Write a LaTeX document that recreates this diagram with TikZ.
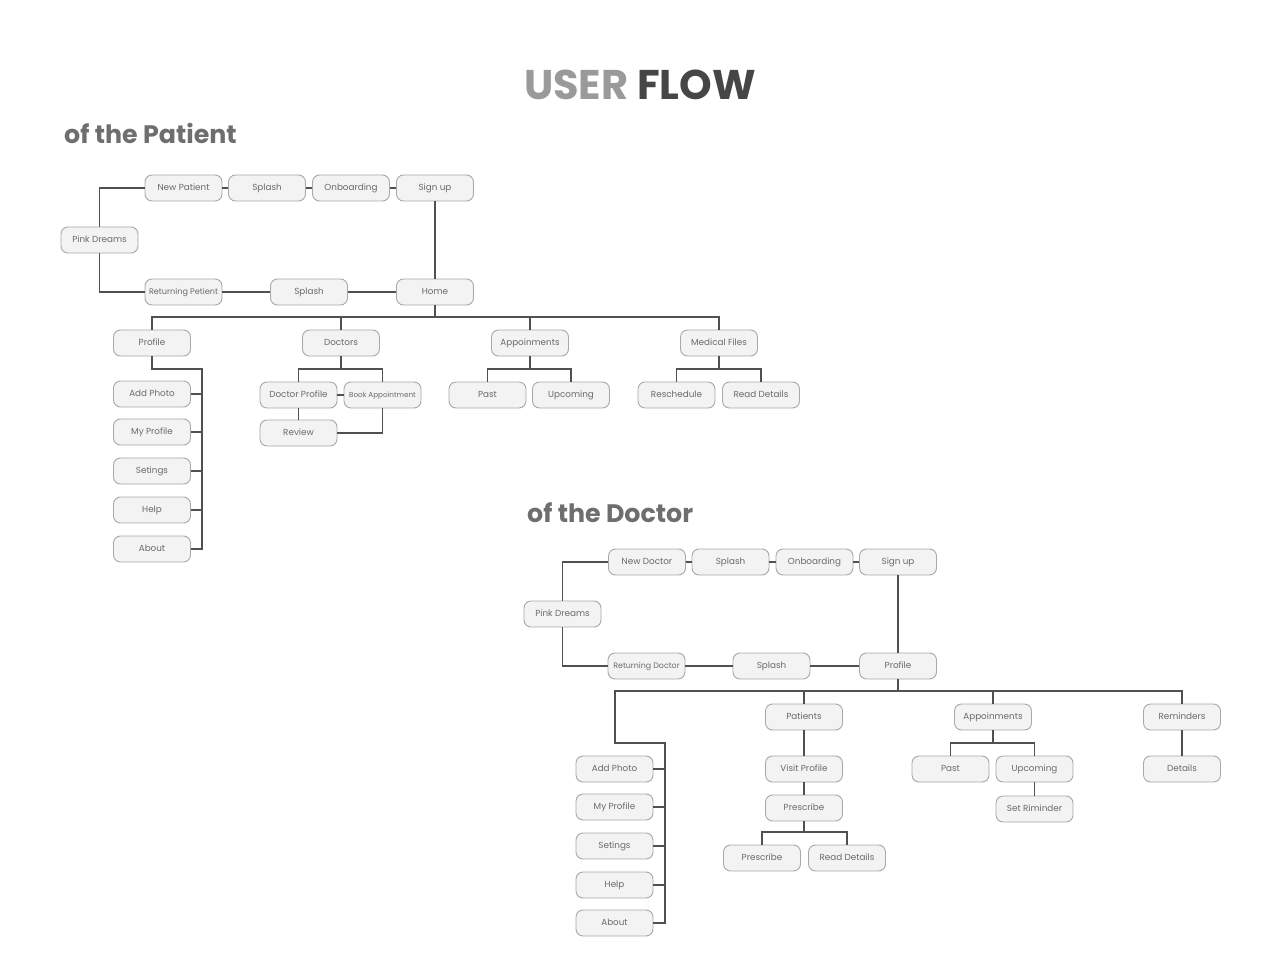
\documentclass[tikz,border=0pt]{standalone}
\usepackage{fontspec}
\setmainfont{Poppins}
\begin{document}
\begin{tikzpicture}[x=1pt,y=-1pt,
  box/.style={draw=boxline,fill=boxfill,rounded corners=7pt,line width=0.9pt,minimum width=77pt,minimum height=26pt,inner sep=0pt,text height=6.3pt,text depth=1.7pt,font=\fontsize{8.8}{10}\selectfont,text=boxtext},
  wire/.style={draw=wirec,line width=1.2pt}]
\definecolor{boxline}{HTML}{A8A8A8}
\definecolor{boxfill}{HTML}{F3F3F3}
\definecolor{boxtext}{HTML}{6A6A6A}
\definecolor{wirec}{HTML}{505050}
\definecolor{ttlA}{HTML}{9A9A9A}
\definecolor{ttlB}{HTML}{464646}
\definecolor{subc}{HTML}{6E6E6E}
\useasboundingbox (0,0) rectangle (1280,960);
\fill[white] (0,0) rectangle (1280,960);
% titles
\node[font=\fontsize{41.5}{46}\selectfont\bfseries,anchor=center] (title) at (640,85) {\textcolor{ttlA}{USER} \textcolor{ttlB}{FLOW}};
\node[font=\fontsize{25.3}{29}\selectfont\bfseries,text=subc,anchor=west,inner sep=0pt] (subP) at (64,133) {of the Patient};
\node[font=\fontsize{25.3}{29}\selectfont\bfseries,text=subc,anchor=west,inner sep=0pt] (subD) at (527,513) {of the Doctor};
% ===== patient =====
\node[box] (pnp) at (183.5,188) {New Patient};
\node[box] (psp) at (267,188) {Splash};
\node[box] (pon) at (351,188) {Onboarding};
\node[box] (psu) at (435,188) {Sign up};
\node[box] (ppd) at (99.5,240) {Pink Dreams};
\node[box,font=\fontsize{8.1}{9}\selectfont] (prp) at (183.5,292) {Returning Petient};
\node[box] (psp2) at (309,292) {Splash};
\node[box] (phome) at (435,292) {Home};
\node[box] (pprof) at (152,343) {Profile};
\node[box] (pdoc) at (341,343) {Doctors};
\node[box] (papp) at (530,343) {Appoinments};
\node[box] (pmed) at (719,343) {Medical Files};
\node[box] (pap) at (152,394) {Add Photo};
\node[box] (pmp) at (152,432) {My Profile};
\node[box] (pset) at (152,471) {Setings};
\node[box] (phelp) at (152,510) {Help};
\node[box] (pabout) at (152,549) {About};
\node[box] (pdp) at (298.5,395) {Doctor Profile};
\node[box,font=\fontsize{7.2}{8}\selectfont] (pba) at (382.5,395) {Book Appointment};
\node[box] (prev) at (298.5,433) {Review};
\node[box] (ppast) at (487.5,395) {Past};
\node[box] (pup) at (571,395) {Upcoming};
\node[box] (presch) at (676.5,395) {Reschedule};
\node[box] (prd) at (761,395) {Read Details};
\coordinate (pbus) at (435,317);
\coordinate (pvr) at (202,369);
\coordinate (pdocbus) at (341,369);
\coordinate (pappbus) at (530,369);
\coordinate (pmedbus) at (719,369);
\draw[wire] (ppd.north) |- (pnp.west);
\draw[wire] (ppd.south) |- (prp.west);
\draw[wire] (pnp) -- (psp);
\draw[wire] (psp) -- (pon);
\draw[wire] (pon) -- (psu);
\draw[wire] (psu) -- (phome);
\draw[wire] (prp) -- (psp2);
\draw[wire] (psp2) -- (phome);
\draw[wire] (phome.south) -- (pbus);
\draw[wire] (pprof.north) -- (pprof.north |- pbus) -| (pmed.north);
\draw[wire] (pdoc.north) -- (pdoc.north |- pbus);
\draw[wire] (papp.north) -- (papp.north |- pbus);
\draw[wire] (pprof.south) |- (pvr) -- (pvr |- pabout.east) -- (pabout.east);
\foreach \n in {pap,pmp,pset,phelp} \draw[wire] (\n.east) -- (\n.east -| pvr);
\draw[wire] (pdoc.south) -- (pdocbus);
\draw[wire] (pdp.north) |- (pdocbus) -| (pba.north);
\draw[wire] (pdp) -- (pba);
\draw[wire] (pdp) -- (prev);
\draw[wire] (pba.south) |- (prev.east);
\draw[wire] (papp.south) -- (pappbus);
\draw[wire] (ppast.north) |- (pappbus) -| (pup.north);
\draw[wire] (pmed.south) -- (pmedbus);
\draw[wire] (presch.north) |- (pmedbus) -| (prd.north);
% ===== doctor =====
\node[box] (dnd) at (647,562) {New Doctor};
\node[box] (dsp) at (730.5,562) {Splash};
\node[box] (don) at (814.5,562) {Onboarding};
\node[box] (dsu) at (898,562) {Sign up};
\node[box] (dpd) at (562.5,614) {Pink Dreams};
\node[box,font=\fontsize{7.9}{9}\selectfont] (drd) at (646.5,666) {Returning Doctor};
\node[box] (dsp2) at (771.5,666) {Splash};
\node[box] (dprof) at (898,666) {Profile};
\node[box] (dpat) at (804,717) {Patients};
\node[box] (dapp) at (993,717) {Appoinments};
\node[box] (drem) at (1182,717) {Reminders};
\node[box] (dap) at (614.5,769) {Add Photo};
\node[box] (dmp) at (614.5,807) {My Profile};
\node[box] (dset) at (614.5,846) {Setings};
\node[box] (dhelp) at (614.5,885) {Help};
\node[box] (dabout) at (614.5,923) {About};
\node[box] (dvp) at (804,769) {Visit Profile};
\node[box] (dpr) at (804,808) {Prescribe};
\node[box] (dpr2) at (762,858) {Prescribe};
\node[box] (drd2) at (847,858) {Read Details};
\node[box] (dpast) at (950.5,769) {Past};
\node[box] (dup) at (1034.5,769) {Upcoming};
\node[box] (dsr) at (1034.5,809) {Set Riminder};
\node[box] (ddet) at (1182,769) {Details};
\coordinate (dbus) at (898,691);
\coordinate (dleft) at (615,691);
\coordinate (dvr) at (665,743);
\coordinate (dprbus) at (804,832);
\coordinate (dappbus) at (993,743);
\draw[wire] (dpd.north) |- (dnd.west);
\draw[wire] (dpd.south) |- (drd.west);
\draw[wire] (dnd) -- (dsp);
\draw[wire] (dsp) -- (don);
\draw[wire] (don) -- (dsu);
\draw[wire] (dsu) -- (dprof);
\draw[wire] (drd) -- (dsp2);
\draw[wire] (dsp2) -- (dprof);
\draw[wire] (dprof.south) -- (dbus);
\draw[wire] (dvr |- dap.east) -- (dvr) -| (dleft) -| (drem.north);
\draw[wire] (dpat.north) -- (dpat.north |- dbus);
\draw[wire] (dapp.north) -- (dapp.north |- dbus);
\draw[wire] (dvr) -- (dvr |- dabout.east) -- (dabout.east);
\foreach \n in {dap,dmp,dset,dhelp} \draw[wire] (\n.east) -- (\n.east -| dvr);
\draw[wire] (dpat) -- (dvp);
\draw[wire] (dvp) -- (dpr);
\draw[wire] (dpr.south) -- (dprbus);
\draw[wire] (dpr2.north) |- (dprbus) -| (drd2.north);
\draw[wire] (dapp.south) -- (dappbus);
\draw[wire] (dpast.north) |- (dappbus) -| (dup.north);
\draw[wire] (dup) -- (dsr);
\draw[wire] (drem) -- (ddet);
\end{tikzpicture}
\end{document}
